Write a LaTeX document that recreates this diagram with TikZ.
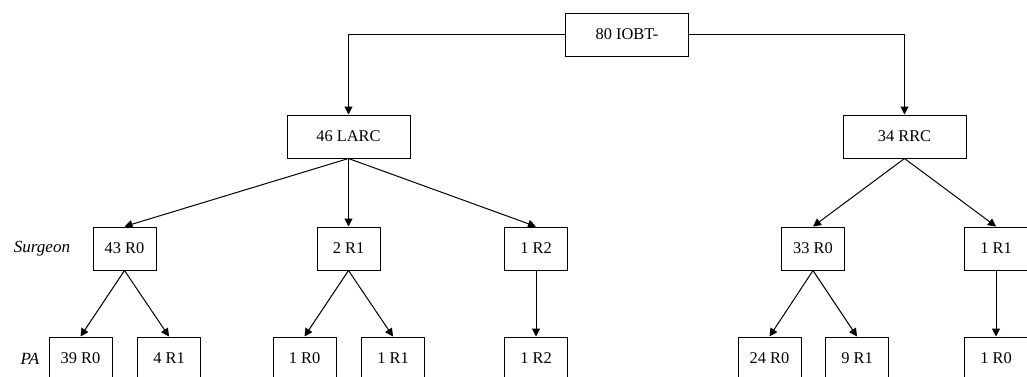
\documentclass[tikz,border=0pt]{standalone}
\usepackage{fontspec}
\setmainfont{Liberation Serif}
\usetikzlibrary{arrows.meta,positioning}

\begin{document}
\begin{tikzpicture}[x=0.75pt,y=-0.75pt,line width=0.75pt]
	\tikzstyle{Box}		= [draw, rectangle, minimum width=47.25pt, minimum height=32.25pt, inner sep=0pt, font=\fontsize{12.3}{14}\selectfont]
	\tikzstyle{Wide}	= [minimum width=92.25pt]
	\tikzstyle{Edge}	= [-{Triangle[length=6pt,width=6pt]}]
	\tikzstyle{Role}	= [font=\fontsize{12.8}{14}\selectfont\itshape]

	\useasboundingbox (0,0) rectangle (1027,376);

	% top and arms
	\node (root) at (627,34.5) [Box][Wide] {80 IOBT-};
	\node (larc) at (348.5,136.5) [Box][Wide] {46 LARC};
	\node (rrc) at (904.5,136.5) [Box][Wide] {34 RRC};

	% surgeon level
	\node (s1) at (124.5,248.5) [Box] {43 R0};
	\node (s2) at (348.5,248.5) [Box] {2 R1};
	\node (s3) at (536,248.5) [Box] {1 R2};
	\node (s4) at (813,248.5) [Box] {33 R0};
	\node (s5) at (996,248.5) [Box] {1 R1};

	% PA level
	\node (p1) at (80.5,358.5) [Box] {39 R0};
	\node (p2) at (169,358.5) [Box] {4 R1};
	\node (p3) at (304.5,358.5) [Box] {1 R0};
	\node (p4) at (393,358.5) [Box] {1 R1};
	\node (p5) at (536,358.5) [Box] {1 R2};
	\node (p6) at (769.5,358.5) [Box] {24 R0};
	\node (p7) at (857,358.5) [Box] {9 R1};
	\node (p8) at (996,358.5) [Box] {1 R0};

	\node (surgeon) at (42,249) [Role] {Surgeon};
	\node (pa) at (30,359) [Role] {PA};

	\draw[Edge] (root.west) -| (larc.north);
	\draw[Edge] (root.east) -| (rrc.north);

	\draw[Edge] (larc.south) -- (s1.north);
	\draw[Edge] (larc.south) -- (s2.north);
	\draw[Edge] (larc.south) -- (s3.north);
	\draw[Edge] (rrc.south) -- (s4.north);
	\draw[Edge] (rrc.south) -- (s5.north);

	\draw[Edge] (s1.south) -- (p1.north);
	\draw[Edge] (s1.south) -- (p2.north);
	\draw[Edge] (s2.south) -- (p3.north);
	\draw[Edge] (s2.south) -- (p4.north);
	\draw[Edge] (s3.south) -- (p5.north);
	\draw[Edge] (s4.south) -- (p6.north);
	\draw[Edge] (s4.south) -- (p7.north);
	\draw[Edge] (s5.south) -- (p8.north);
\end{tikzpicture}
\end{document}
